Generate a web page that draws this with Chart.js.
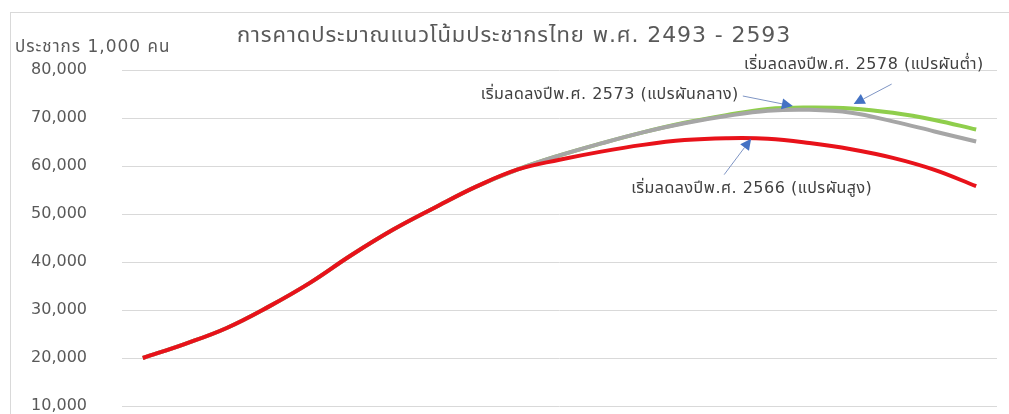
<!DOCTYPE html>
<html>
<head>
<meta charset="utf-8">
<script src="https://cdn.jsdelivr.net/npm/chart.js@4/dist/chart.umd.min.js"></script>
<style>
  html, body { margin: 0; padding: 0; background: #fff; }
  #wrap { width: 1009px; height: 414px; position: relative; }
</style>
</head>
<body>
<div id="wrap"><canvas id="chart"></canvas></div>
<script>
// ─── Data (thousands of people, every 5 years B.E.) ─────────────────────────
const YEARS = [2493, 2498, 2503, 2508, 2513, 2518, 2523, 2528, 2533, 2538, 2543,
               2548, 2553, 2558, 2563, 2568, 2573, 2578, 2583, 2588, 2593];

// แปรผันสูง (red)
const POP_HIGH = [20000, 22900, 26200, 30600, 35600, 41400, 46700, 51300, 55700, 59300, 61300,
                  63000, 64400, 65400, 65800, 65700, 64800, 63500, 61700, 59200, 55800];
// แปรผันกลาง (gray)
const POP_MID  = [20000, 22900, 26200, 30600, 35600, 41400, 46700, 51300, 55700, 59300, 62200,
                  64700, 67000, 68900, 70400, 71500, 71700, 71100, 69300, 67200, 65100];
// แปรผันต่ำ (green)
const POP_LOW  = [20000, 22900, 26200, 30600, 35600, 41400, 46700, 51300, 55700, 59300, 62200,
                  64700, 67000, 69000, 70600, 71900, 72200, 72000, 71100, 69600, 67600];

const Y_MIN  = 10000;
const Y_MAX  = 80000;
const Y_STEP = 10000;

const TITLE   = "การคาดประมาณแนวโน้มประชากรไทย พ.ศ. 2493 - 2593";
const Y_TITLE = "ประชากร 1,000 คน";

// arrow tip at (year, value); tail / text offsets in px from the tip
const NOTES = [
  { text: "เริ่มลดลงปีพ.ศ. 2578 (แปรผันต่ำ)",  year: 2578.3, value: 72900, tail: [38, -20], textAt: [130, -39], align: "right" },
  { text: "เริ่มลดลงปีพ.ศ. 2573 (แปรผันกลาง)", year: 2571.0, value: 72500, tail: [-50, -10], textAt: [-54, -11], align: "right" },
  { text: "เริ่มลดลงปีพ.ศ. 2566 (แปรผันสูง)",  year: 2566.0, value: 65700, tail: [-27, 36], textAt: [-120, 50], align: "left" },
];

const FONT = "'DejaVu Sans', 'Noto Sans Thai', 'Tahoma', sans-serif";

// ─── Helpers ─────────────────────────────────────────────────────────────────
function drawArrow(ctx, x0, y0, x1, y1) {
  const ang = Math.atan2(y1 - y0, x1 - x0);
  const len = 11, half = 5.5;
  const bx = x1 - Math.cos(ang) * len, by = y1 - Math.sin(ang) * len;
  ctx.strokeStyle = "#7f95c4";
  ctx.lineWidth = 1;
  ctx.beginPath();
  ctx.moveTo(x0, y0);
  ctx.lineTo(bx, by);
  ctx.stroke();
  ctx.fillStyle = "#4472c4";
  ctx.beginPath();
  ctx.moveTo(x1, y1);
  ctx.lineTo(bx + Math.sin(ang) * half, by - Math.cos(ang) * half);
  ctx.lineTo(bx - Math.sin(ang) * half, by + Math.cos(ang) * half);
  ctx.closePath();
  ctx.fill();
}

const decorPlugin = {
  id: "decor",
  beforeDraw(chart) {
    const ctx = chart.ctx;
    ctx.save();
    ctx.strokeStyle = "#d9d9d9";
    ctx.lineWidth = 1;
    ctx.strokeRect(10.5, 12.5, chart.width + 20, chart.height + 20);
    ctx.fillStyle = "#595959";
    ctx.textBaseline = "middle";
    ctx.textAlign = "center";
    ctx.font = "22px " + FONT;
    ctx.letterSpacing = "0.9px";
    ctx.fillText(TITLE, 514, 36);
    ctx.textAlign = "left";
    ctx.font = "17px " + FONT;
    ctx.letterSpacing = "1px";
    ctx.fillText(Y_TITLE, 15, 48);
    ctx.restore();
  },
  afterDatasetsDraw(chart) {
    const ctx = chart.ctx;
    const xs = chart.scales.x, ys = chart.scales.y;
    ctx.save();
    NOTES.forEach(n => {
      const tx = xs.getPixelForValue((n.year - YEARS[0]) / 5);
      const ty = ys.getPixelForValue(n.value);
      drawArrow(ctx, tx + n.tail[0], ty + n.tail[1], tx, ty);
      ctx.fillStyle = "#404040";
      ctx.font = "16px " + FONT;
      ctx.letterSpacing = "0.5px";
      ctx.textAlign = n.align;
      ctx.textBaseline = "middle";
      ctx.fillText(n.text, tx + n.textAt[0], ty + n.textAt[1]);
    });
    ctx.restore();
  }
};

// ─── Chart ───────────────────────────────────────────────────────────────────
const line = (data, color) => ({
  data, borderColor: color, backgroundColor: color,
  borderWidth: 4, pointRadius: 0, tension: 0.4, fill: false
});

new Chart(document.getElementById("chart"), {
  type: "line",
  data: {
    labels: YEARS.map(String),
    // first dataset is painted last (on top)
    datasets: [
      line(POP_HIGH, "#e8121a"),
      line(POP_MID,  "#a6a6a6"),
      line(POP_LOW,  "#8fce4c"),
    ]
  },
  options: {
    responsive: true,
    maintainAspectRatio: false,
    animation: false,
    layout: { padding: { left: 10, right: 12, top: 70, bottom: 8 } },
    plugins: { legend: { display: false }, tooltip: { enabled: false } },
    scales: {
      x: { display: false, offset: true },
      y: {
        min: Y_MIN, max: Y_MAX,
        border: { display: false },
        grid: { color: "#d9d9d9", lineWidth: 1, drawTicks: false },
        ticks: {
          stepSize: Y_STEP, padding: 35, color: "#595959",
          font: { family: "'DejaVu Sans', sans-serif", size: 16 },
          callback: v => v.toLocaleString("en-US")
        },
        afterFit: s => { s.width = 112; s.paddingTop = 0; s.paddingBottom = 0; }
      }
    }
  },
  plugins: [decorPlugin]
});
</script>
</body>
</html>
